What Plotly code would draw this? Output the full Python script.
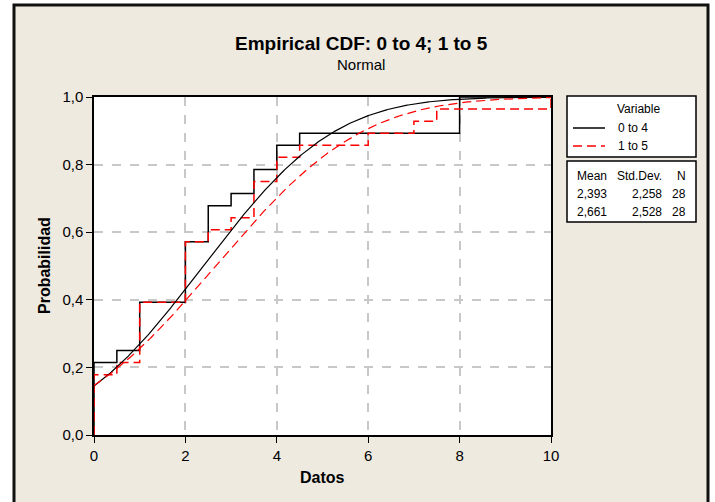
import math
import numpy as np
import plotly.graph_objects as go

# ---------------- data ----------------
series_names = ["0 to 4", "1 to 5"]
# unique observed values and their counts (read from the step heights, N=28)
vals_0to4 = [0, 0.5, 1, 2, 2.5, 3, 3.5, 4, 4.5, 8]
counts_0to4 = [6, 1, 4, 5, 3, 1, 2, 2, 1, 3]
vals_1to5 = [0, 0.5, 1, 2, 2.5, 3, 3.5, 4, 4.5, 6, 7, 7.5, 10]
counts_1to5 = [5, 1, 5, 5, 1, 1, 3, 2, 1, 1, 1, 1, 1]
means = [2.393, 2.661]
stdevs = [2.258, 2.528]
ns = [28, 28]
mean_labels = ["2,393", "2,661"]
std_labels = ["2,258", "2,528"]
x_ticks = [0, 2, 4, 6, 8, 10]
y_ticks = [0.0, 0.2, 0.4, 0.6, 0.8, 1.0]
y_tick_labels = ["0,0", "0,2", "0,4", "0,6", "0,8", "1,0"]

FONT = "Liberation Sans Narrow, Arial Narrow, Liberation Sans, Arial, sans-serif"
BEIGE = "#EEEAE0"
RED = "#FF0000"

# plot area in pixels
W, H = 715, 502
L, R, T, B = 94, 551, 97, 435


def px(x):
    return (x - L) / (R - L)


def py(y):
    return (B - y) / (B - T)


def ecdf_steps(vals, counts):
    n = sum(counts)
    xs = [vals[0]]
    ys = [0.0]
    cum = 0
    for v, c in zip(vals, counts):
        cum += c
        xs.append(v)
        ys.append(cum / n)
    if xs[-1] < 10:
        xs.append(10)
        ys.append(ys[-1])
    return xs, ys


def norm_cdf(x, m, s):
    return [0.5 * (1 + math.erf((xi - m) / (s * math.sqrt(2)))) for xi in x]


xfit = np.linspace(0, 10, 401)

fig = go.Figure()

styles = [dict(color="black", dash="solid"), dict(color=RED, dash="9px,5px")]
data_sets = [(vals_0to4, counts_0to4), (vals_1to5, counts_1to5)]

for i, (v, c) in enumerate(data_sets):
    xs, ys = ecdf_steps(v, c)
    fig.add_trace(go.Scatter(x=xs, y=ys, mode="lines", line_shape="hv",
                             line=dict(color=styles[i]["color"], dash=styles[i]["dash"], width=1.5),
                             showlegend=False, hoverinfo="skip"))
for i in range(2):
    fig.add_trace(go.Scatter(x=xfit, y=norm_cdf(xfit, means[i], stdevs[i]), mode="lines",
                             line=dict(color=styles[i]["color"], dash=styles[i]["dash"], width=1.2),
                             showlegend=False, hoverinfo="skip"))

shapes = []
# beige panel with dark border
shapes.append(dict(type="rect", xref="paper", yref="paper", layer="below",
                   x0=px(14), x1=px(708), y0=py(5), y1=py(520),
                   fillcolor=BEIGE, line=dict(color="#111111", width=3)))
# white plot background
shapes.append(dict(type="rect", xref="paper", yref="paper", layer="below",
                   x0=0, x1=1, y0=0, y1=1, fillcolor="white", line=dict(width=0)))
# legend boxes
for (y0, y1) in [(96, 157), (161, 222)]:
    shapes.append(dict(type="rect", xref="paper", yref="paper",
                       x0=px(567), x1=px(696), y0=py(y0), y1=py(y1),
                       fillcolor="white", line=dict(color="black", width=1.5)))
# legend sample lines
shapes.append(dict(type="line", xref="paper", yref="paper", x0=px(573), x1=px(605),
                   y0=py(128), y1=py(128), line=dict(color="black", width=1.5)))
shapes.append(dict(type="line", xref="paper", yref="paper", x0=px(573), x1=px(605),
                   y0=py(146), y1=py(146), line=dict(color=RED, width=1.5, dash="9px,5px")))

ann = []
ann.append(dict(text="<b>Empirical CDF: 0 to 4; 1 to 5</b>", x=px(361), y=py(43), xref="paper", yref="paper",
                showarrow=False, font=dict(family=FONT, size=19, color="black"), xanchor="center", yanchor="middle"))
ann.append(dict(text="Normal", x=px(361), y=py(64), xref="paper", yref="paper",
                showarrow=False, font=dict(family=FONT, size=15, color="black"), xanchor="center", yanchor="middle"))
ann.append(dict(text="<b>Datos</b>", x=px(322), y=py(477), xref="paper", yref="paper",
                showarrow=False, font=dict(family=FONT, size=16, color="black"), xanchor="center", yanchor="middle"))
ann.append(dict(text="<b>Probabilidad</b>", x=px(44), y=py(266), xref="paper", yref="paper", textangle=-90,
                showarrow=False, font=dict(family=FONT, size=16, color="black"), xanchor="center", yanchor="middle"))
lf = dict(family=FONT, size=12, color="black")
ann.append(dict(text="Variable", x=px(638), y=py(109), xref="paper", yref="paper", showarrow=False,
                font=lf, xanchor="center", yanchor="middle"))
for i, yy in enumerate([128, 146]):
    ann.append(dict(text=series_names[i], x=px(616), y=py(yy), xref="paper", yref="paper", showarrow=False,
                    font=lf, xanchor="left", yanchor="middle"))
for txt, xx in [("Mean", 609), ("Std.Dev.", 664), ("N", 688)]:
    ann.append(dict(text=txt, x=px(xx), y=py(176), xref="paper", yref="paper", showarrow=False,
                    font=lf, xanchor="right", yanchor="middle"))
for i, yy in enumerate([194, 212]):
    for txt, xx in [(mean_labels[i], 609), (std_labels[i], 664), (str(ns[i]), 688)]:
        ann.append(dict(text=txt, x=px(xx), y=py(yy), xref="paper", yref="paper", showarrow=False,
                        font=lf, xanchor="right", yanchor="middle"))

fig.update_layout(
    width=W, height=H,
    margin=dict(l=L, r=W - R, t=T, b=H - B, pad=0),
    paper_bgcolor="white", plot_bgcolor="white",
    shapes=shapes, annotations=ann, showlegend=False,
    xaxis=dict(range=[0, 10], tickvals=x_ticks, ticktext=[str(t) for t in x_ticks],
               showgrid=True, gridcolor="#C8C8C8", griddash="dash", gridwidth=1.5,
               showline=True, linecolor="black", linewidth=1.5, mirror=True,
               ticks="outside", ticklen=6, tickcolor="black", tickwidth=1.2,
               tickfont=dict(family=FONT, size=15, color="black"), zeroline=False),
    yaxis=dict(range=[0, 1], tickvals=y_ticks, ticktext=y_tick_labels,
               showgrid=True, gridcolor="#C8C8C8", griddash="dash", gridwidth=1.5,
               showline=True, linecolor="black", linewidth=1.5, mirror=True,
               ticks="outside", ticklen=6, tickcolor="black", tickwidth=1.2,
               tickfont=dict(family=FONT, size=15, color="black"), zeroline=False),
)

fig.write_html("out.html")
